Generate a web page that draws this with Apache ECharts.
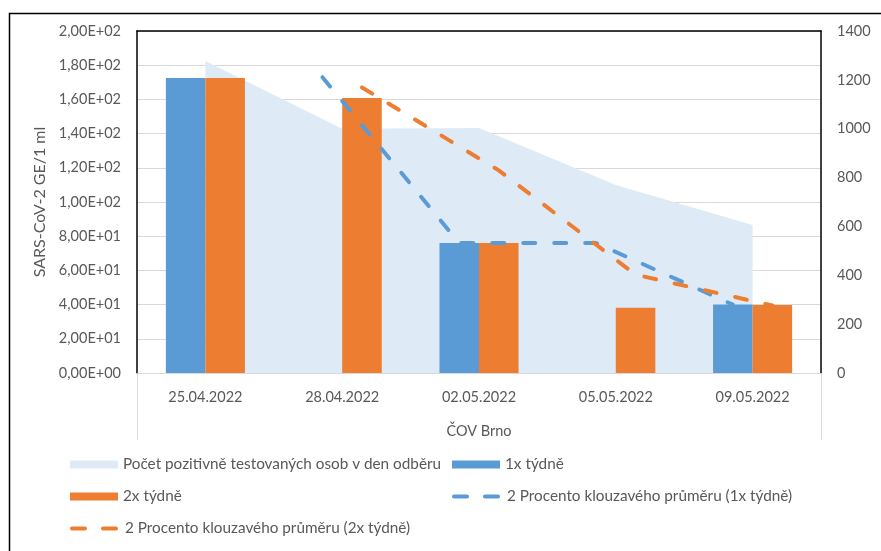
<!DOCTYPE html>
<html>
<head>
<meta charset="utf-8">
<script src="https://cdn.jsdelivr.net/npm/echarts@6/dist/echarts.min.js"></script>
<style>
  html, body { margin: 0; padding: 0; background: #fff; }
  #chart { width: 881px; height: 551px; }
</style>
</head>
<body>
<div id="chart"></div>
<script>
// Sampling dates (ČOV Brno)
const dates = ['25.04.2022', '28.04.2022', '02.05.2022', '05.05.2022', '09.05.2022'];
const groupLabel = ['ČOV Brno'];

// Number of people tested positive on the sampling day (right axis)
const positives = [1277, 1000, 1003, 770, 606];

// SARS-CoV-2 GE/1 ml (left axis)
const weekly1x = [172.5, null, 76, null, 40];
const weekly2x = [172.5, 160.8, 76, 38.2, 39.8];

// 2-period moving averages of each sampling series
const avg1x = [null, 173, 76, 76, 40];
const avg2x = [null, 167, 118.5, 57.5, 39.5];

const seriesNames = {
  positives: 'Počet pozitivně testovaných osob v den odběru',
  w1: '1x týdně',
  w2: '2x týdně',
  a1: '2 Procento klouzavého průměru (1x týdně)',
  a2: '2 Procento klouzavého průměru (2x týdně)'
};

const COLORS = { area: '#DEEBF7', blue: '#5B9BD5', orange: '#ED7D31', text: '#595959', grid: '#D9D9D9' };
const FONT = 'Lato, "Open Sans", sans-serif';
const FS = 14.5;

// Bar width as a fraction of a category band; trend lines sit on bar centres
const BAR_FRACTION = 0.289;
const HALF_BAR = BAR_FRACTION / 2;

function sci(v) {
  if (v === 0) return '0,00E+00';
  const e = Math.floor(Math.log10(Math.abs(v)) + 1e-9);
  const m = (v / Math.pow(10, e)).toFixed(2).replace('.', ',');
  return m + 'E' + (e < 0 ? '-' : '+') + String(Math.abs(e)).padStart(2, '0');
}

function trendPoints(values, shift) {
  const pts = [];
  values.forEach((v, i) => { if (v !== null) pts.push([i + shift, v]); });
  return pts;
}

const txt = { color: COLORS.text, fontFamily: FONT, fontSize: FS };
const legendTxt = { color: COLORS.text, fontFamily: FONT, fontSize: 15.3 };
const dashStyle = (c) => ({ color: c, width: 4, type: [12, 19], cap: 'round' });

function legendAt(left, top, name, icon, dashed) {
  const item = icon ? { name: name, icon: icon } : { name: name };
  const lg = {
    left: left, top: top, padding: 0, itemWidth: 48, itemHeight: 8, itemGap: 5,
    textStyle: legendTxt, selectedMode: false, data: [item]
  };
  if (dashed) {
    lg.itemStyle = { opacity: 0 };
    lg.lineStyle = { width: 4, type: [13, 18], cap: 'round' };
  }
  return lg;
}

const chart = echarts.init(document.getElementById('chart'), null, { renderer: 'canvas' });

chart.setOption({
  backgroundColor: '#fff',
  animation: false,
  grid: { left: 137, right: 60, top: 31, bottom: 178, containLabel: false },
  graphic: [{
    type: 'rect', left: 7, top: 11, silent: true,
    shape: { width: 900, height: 600 },
    style: { fill: 'none', stroke: '#000', lineWidth: 1.5 }
  }],
  legend: [
    legendAt(70, 457, seriesNames.positives, 'rect'),
    legendAt(452, 457, seriesNames.w1, 'rect'),
    legendAt(70, 489, seriesNames.w2, 'rect'),
    legendAt(452, 489, seriesNames.a1, null, true),
    legendAt(70, 521, seriesNames.a2, null, true)
  ],
  xAxis: [
    {
      type: 'category', data: dates, position: 'bottom', boundaryGap: true,
      axisLine: { onZero: false, lineStyle: { color: COLORS.grid, width: 1 } },
      axisTick: { show: false },
      axisLabel: Object.assign({ margin: 17, interval: 0 }, txt),
      splitLine: { show: false }
    },
    {
      // numeric twin of the category axis, used to place trend lines on bar centres
      type: 'value', min: -0.5, max: dates.length - 0.5, position: 'top',
      axisLine: { show: true, onZero: false, lineStyle: { color: '#000', width: 1.5 } },
      axisTick: { show: false }, axisLabel: { show: false }, splitLine: { show: false }
    },
    {
      type: 'category', data: groupLabel, position: 'bottom', boundaryGap: true,
      axisLine: { show: false, onZero: false },
      axisTick: { show: true, length: 67, interval: 0, lineStyle: { color: COLORS.grid, width: 1 } },
      axisLabel: Object.assign({ margin: 51 }, txt),
      splitLine: { show: false }
    }
  ],
  yAxis: [
    {
      type: 'value', min: 0, max: 200, interval: 20, position: 'left',
      name: 'SARS-CoV-2 GE/1 ml', nameLocation: 'middle', nameGap: 86,
      nameTextStyle: { color: COLORS.text, fontFamily: FONT, fontSize: 16 },
      axisLine: { show: true, onZero: false, lineStyle: { color: '#000', width: 1.5 } },
      axisTick: { show: false },
      axisLabel: Object.assign({ margin: 16, formatter: sci }, txt),
      splitLine: { lineStyle: { color: COLORS.grid, width: 1 } }
    },
    {
      type: 'value', min: 0, max: 1400, interval: 200, position: 'right',
      axisLine: { show: true, onZero: false, lineStyle: { color: '#000', width: 1.5 } },
      axisTick: { show: false },
      axisLabel: Object.assign({ margin: 16, formatter: (v) => String(v) }, txt),
      splitLine: { show: false }
    }
  ],
  series: [
    {
      name: seriesNames.positives, type: 'line', xAxisIndex: 0, yAxisIndex: 1,
      data: positives, symbol: 'none', z: 1,
      color: COLORS.area,
      lineStyle: { width: 0, color: COLORS.area },
      areaStyle: { color: COLORS.area, opacity: 1 }
    },
    {
      name: seriesNames.w1, type: 'bar', xAxisIndex: 0, yAxisIndex: 0,
      data: weekly1x, barWidth: (BAR_FRACTION * 100) + '%', barGap: '0%', z: 2,
      itemStyle: { color: COLORS.blue }, color: COLORS.blue
    },
    {
      name: seriesNames.w2, type: 'bar', xAxisIndex: 0, yAxisIndex: 0,
      data: weekly2x, barWidth: (BAR_FRACTION * 100) + '%', barGap: '0%', z: 2,
      itemStyle: { color: COLORS.orange }, color: COLORS.orange
    },
    {
      name: seriesNames.a1, type: 'line', xAxisIndex: 1, yAxisIndex: 0,
      data: trendPoints(avg1x, -HALF_BAR), symbol: 'none', showSymbol: false, z: 3,
      color: COLORS.blue, lineStyle: dashStyle(COLORS.blue)
    },
    {
      name: seriesNames.a2, type: 'line', xAxisIndex: 1, yAxisIndex: 0,
      data: trendPoints(avg2x, HALF_BAR), symbol: 'none', showSymbol: false, z: 3,
      color: COLORS.orange, lineStyle: dashStyle(COLORS.orange)
    }
  ]
});
</script>
</body>
</html>
